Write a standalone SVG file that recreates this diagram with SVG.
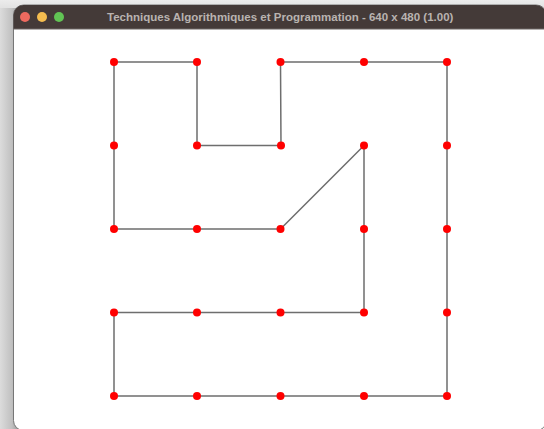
<svg xmlns="http://www.w3.org/2000/svg" width="544" height="429" viewBox="0 0 544 429">
  <defs>
    <linearGradient id="shadeLeft" x1="0" x2="1" y1="0" y2="0">
      <stop offset="0" stop-color="#dcdcdc"/>
      <stop offset="0.6" stop-color="#c0c0c0"/>
      <stop offset="1" stop-color="#909090"/>
    </linearGradient>
    <linearGradient id="shadeTop" x1="0" x2="0" y1="0" y2="1">
      <stop offset="0" stop-color="#ececec"/>
      <stop offset="1" stop-color="#e2e2e2"/>
    </linearGradient>
    <style>
      .edge { fill: none; stroke: #6e6e6e; stroke-width: 1.5; }
      .pt { fill: #ff0000; }
      .title { font-family: "Liberation Sans", Arial, sans-serif; font-size: 11.5px; font-weight: 700; fill: #b9b3b0; }
    </style>
  </defs>
  <g id="window">
    <rect width="544" height="429" fill="#ffffff"/>
    <rect width="544" height="8" fill="url(#shadeTop)"/>
    <rect y="8" width="20" height="421" fill="url(#shadeLeft)"/>
    <rect x="13.500" y="5" width="533" height="425.500" rx="10" fill="#ffffff" stroke="#777777" stroke-width="1"/>
    <path d="M13.500 29V15A10 10 0 0 1 23.500 5H536A10 10 0 0 1 546 15V29Z" fill="#443a38"/>
    <path d="M13.500 29H544" stroke="#6d6664" stroke-width="1"/>
    <circle cx="25" cy="17" r="5" fill="#ee6a5f"/>
    <circle cx="42" cy="17" r="5" fill="#f5bd4f"/>
    <circle cx="59" cy="17" r="5" fill="#61c454"/>
    <text class="title" x="107" y="21">Techniques Algorithmiques et Programmation - 640 x 480 (1.00)</text>
  </g>
  <g id="connectors">
    <path class="edge" d="M114 62H197V145.500H281L280.500 62H447V396H114V312.500H364V145.500L280.500 229H114Z"/>
  </g>
  <g id="nodes">
    <circle id="n00" class="pt" cx="114" cy="62" r="4"/>
    <circle id="n10" class="pt" cx="197" cy="62" r="4"/>
    <circle id="n20" class="pt" cx="280.500" cy="62" r="4"/>
    <circle id="n30" class="pt" cx="364" cy="62" r="4"/>
    <circle id="n40" class="pt" cx="447" cy="62" r="4"/>
    <circle id="n01" class="pt" cx="114" cy="145.500" r="4"/>
    <circle id="n11" class="pt" cx="197" cy="145.500" r="4"/>
    <circle id="n21" class="pt" cx="281" cy="145.500" r="4"/>
    <circle id="n31" class="pt" cx="364" cy="145.500" r="4"/>
    <circle id="n41" class="pt" cx="447" cy="145.500" r="4"/>
    <circle id="n02" class="pt" cx="114" cy="229" r="4"/>
    <circle id="n12" class="pt" cx="197" cy="229" r="4"/>
    <circle id="n22" class="pt" cx="280.500" cy="229" r="4"/>
    <circle id="n32" class="pt" cx="364" cy="229" r="4"/>
    <circle id="n42" class="pt" cx="447" cy="229" r="4"/>
    <circle id="n03" class="pt" cx="114" cy="312.500" r="4"/>
    <circle id="n13" class="pt" cx="197" cy="312.500" r="4"/>
    <circle id="n23" class="pt" cx="280.500" cy="312.500" r="4"/>
    <circle id="n33" class="pt" cx="364" cy="312.500" r="4"/>
    <circle id="n43" class="pt" cx="447" cy="312.500" r="4"/>
    <circle id="n04" class="pt" cx="114" cy="396" r="4"/>
    <circle id="n14" class="pt" cx="197" cy="396" r="4"/>
    <circle id="n24" class="pt" cx="280.500" cy="396" r="4"/>
    <circle id="n34" class="pt" cx="364" cy="396" r="4"/>
    <circle id="n44" class="pt" cx="447" cy="396" r="4"/>
  </g>
</svg>
